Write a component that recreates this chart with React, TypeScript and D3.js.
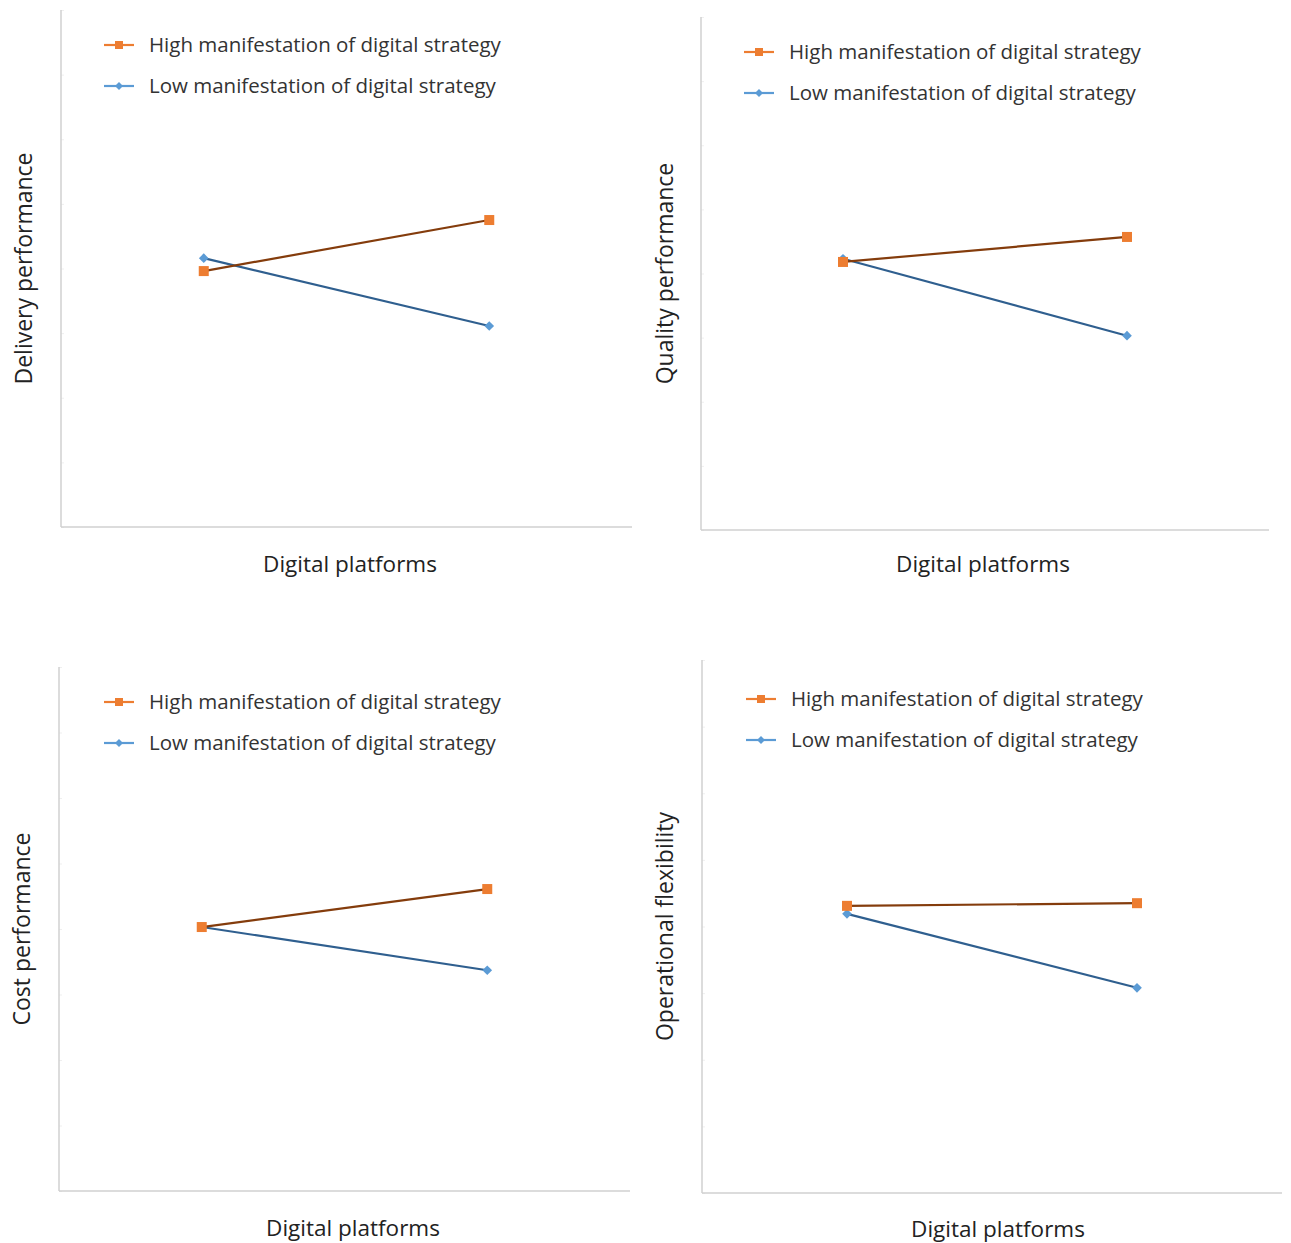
import { useRef, useEffect } from 'react';
import * as d3 from 'd3';

// x categories (digital platforms low / high)
const platforms = ['Low', 'High'];
const seriesNames = ['High manifestation of digital strategy', 'Low manifestation of digital strategy'];
const yTicks = [0, 1, 2, 3, 4, 5, 6, 7, 8];

// values, y scale 0..8
const deliveryHigh = [3.96, 4.75];
const deliveryLow = [4.16, 3.11];
const qualityHigh = [4.18, 4.57];
const qualityLow = [4.23, 3.03];
const costHigh = [4.03, 4.61];
const costLow = [4.03, 3.37];
const flexHigh = [4.31, 4.35];
const flexLow = [4.19, 3.08];

const panels = [
  { title: 'Delivery performance', high: deliveryHigh, low: deliveryLow, x0: 61, x1: 632, top: 10, bottom: 527, yLab: 24, leg: 45, legX: 104, xLab: 572, xLabX: 350 },
  { title: 'Quality performance', high: qualityHigh, low: qualityLow, x0: 701, x1: 1269, top: 17, bottom: 530, yLab: 665, leg: 52, legX: 744, xLab: 572, xLabX: 983 },
  { title: 'Cost performance', high: costHigh, low: costLow, x0: 59, x1: 630, top: 667, bottom: 1191, yLab: 22, leg: 702, legX: 104, xLab: 1236, xLabX: 353 },
  { title: 'Operational flexibility', high: flexHigh, low: flexLow, x0: 702, x1: 1282, top: 660, bottom: 1193, yLab: 665, leg: 699, legX: 746, xLab: 1237, xLabX: 998 },
];

const FONT = '"Open Sans", Lato, sans-serif';

const App = () => {
  const svgRef = useRef(null);

  useEffect(() => {
    const svg = d3.select(svgRef.current);
    svg.selectAll('*').remove();

    panels.forEach(p => {
      const g = svg.append('g');
      const x = d3.scalePoint().domain(platforms).range([p.x0, p.x1]).padding(0.5);
      const y = d3.scaleLinear().domain([0, 8]).range([p.bottom, p.top]);

      // faint y ticks
      const ya = g.append('g')
        .attr('transform', `translate(${p.x0},0)`)
        .call(d3.axisRight(y).tickValues(yTicks).tickSize(3).tickFormat(() => ''));
      ya.select('.domain').remove();
      ya.selectAll('line').attr('stroke', '#efefef');

      g.append('line')
        .attr('x1', p.x0).attr('x2', p.x0)
        .attr('y1', p.top).attr('y2', p.bottom)
        .attr('stroke', '#d0d0d0').attr('stroke-width', 1.5);
      g.append('line')
        .attr('x1', p.x0).attr('x2', p.x1)
        .attr('y1', p.bottom).attr('y2', p.bottom)
        .attr('stroke', '#d0d0d0').attr('stroke-width', 1.5);

      const line = d3.line<number>().x((d, i) => x(platforms[i])).y(d => y(d));

      // low series
      g.append('path').datum(p.low)
        .attr('d', line).attr('fill', 'none')
        .attr('stroke', '#2f5f8f').attr('stroke-width', 2.2);
      g.selectAll('.dlow').data(p.low).join('path')
        .attr('transform', (d, i) => `translate(${x(platforms[i])},${y(d)})`)
        .attr('d', d3.symbol(d3.symbolDiamond2, 60))
        .attr('fill', '#5b9bd5');

      // high series
      g.append('path').datum(p.high)
        .attr('d', line).attr('fill', 'none')
        .attr('stroke', '#843c0c').attr('stroke-width', 2.2);
      g.selectAll('.dhigh').data(p.high).join('rect')
        .attr('x', (d, i) => x(platforms[i]) - 5)
        .attr('y', d => y(d) - 5)
        .attr('width', 10).attr('height', 10)
        .attr('fill', '#ed7d31');

      // legend
      seriesNames.forEach((name, i) => {
        const ly = p.leg + i * 41;
        const col = i === 0 ? '#ed7d31' : '#5b9bd5';
        g.append('line')
          .attr('x1', p.legX).attr('x2', p.legX + 30)
          .attr('y1', ly).attr('y2', ly)
          .attr('stroke', col).attr('stroke-width', 2.2);
        if (i === 0) {
          g.append('rect').attr('x', p.legX + 11).attr('y', ly - 4)
            .attr('width', 8).attr('height', 8).attr('fill', col);
        } else {
          g.append('path').attr('transform', `translate(${p.legX + 15},${ly})`)
            .attr('d', d3.symbol(d3.symbolDiamond2, 40)).attr('fill', col);
        }
        g.append('text')
          .attr('x', p.legX + 45).attr('y', ly + 7)
          .attr('font-family', FONT).attr('font-size', 20.5)
          .attr('fill', '#333')
          .text(name);
      });

      // axis titles
      g.append('text')
        .attr('transform', `translate(${p.yLab + 8},${(p.top + p.bottom) / 2}) rotate(-90)`)
        .attr('text-anchor', 'middle')
        .attr('font-family', FONT).attr('font-size', 23)
        .attr('fill', '#222')
        .text(p.title);
      g.append('text')
        .attr('x', p.xLabX).attr('y', p.xLab)
        .attr('text-anchor', 'middle')
        .attr('font-family', FONT).attr('font-size', 22.5)
        .attr('fill', '#222')
        .text('Digital platforms');
    });
  }, []);

  return <svg ref={svgRef} width="1291" height="1243" style={{ position: 'absolute', left: 0, top: 0, background: '#fff' }}></svg>;
};

export default App;
